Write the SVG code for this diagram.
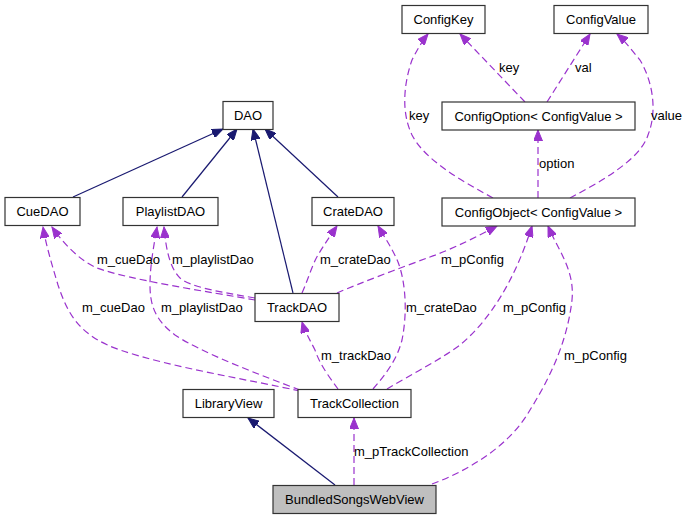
<svg xmlns="http://www.w3.org/2000/svg" width="688" height="520" viewBox="0 0 688 520">
<style>
.node rect{fill:#ffffff;stroke:#333333;stroke-width:1.2}
.node text{font-family:"Liberation Sans",Arial,sans-serif;font-size:13px;fill:#000000;text-anchor:middle}
.inh{fill:none;stroke:#191970;stroke-width:1.2;marker-end:url(#ah)}
.col{fill:none;stroke:#9a32cd;stroke-width:1.2;stroke-dasharray:7,4;marker-end:url(#ap)}
.lbl{font-family:"Liberation Sans",Arial,sans-serif;font-size:13px;fill:#000000}
</style>
<defs>
<marker id="ah" markerUnits="userSpaceOnUse" markerWidth="12" markerHeight="9" refX="11" refY="4.5" orient="auto">
<path d="M0,0 L11,4.5 L0,9 z" fill="#191970" stroke="#191970" stroke-width="1"/>
</marker>
<marker id="ap" markerUnits="userSpaceOnUse" markerWidth="12" markerHeight="9" refX="11" refY="4.5" orient="auto">
<path d="M0,0 L11,4.5 L0,9 z" fill="#9a32cd" stroke="#9a32cd" stroke-width="1"/>
</marker>
</defs>
<rect width="688" height="520" fill="#ffffff"/>
<g id="connectors">
<path class="inh" d="M73,197 L223,129"/>
<path class="inh" d="M182,197 L237,129"/>
<path class="inh" d="M293,293 L253,129"/>
<path class="inh" d="M338,197 L265,129"/>
<path class="inh" d="M335,485 L248,418"/>
<path class="col" d="M255,300 C210,292 130,280 97,268 C80,261 63,243 52,227"/>
<path class="col" d="M255,298 C220,292 190,287 180,278 C170,268 166,250 164,227"/>
<path class="col" d="M300,391 C250,380 170,367 120,350 C80,336 68,315 58,285 C52,265 46,245 43,227"/>
<path class="col" d="M300,390 C260,375 200,352 175,335 C155,320 150,305 150,285 C150,265 154,245 157,227"/>
<path class="col" d="M302,293 C308,280 312,265 318,255 C324,245 330,236 337,226"/>
<path class="col" d="M337,293 C360,283 400,268 430,257 C455,248 480,235 497,226"/>
<path class="col" d="M338,389 C330,378 320,365 315,350 C310,340 305,332 302,322"/>
<path class="col" d="M373,389 C385,375 397,360 402,340 C408,310 405,280 398,262 C392,248 385,238 378,226"/>
<path class="col" d="M387,389 C410,375 440,360 460,345 C490,320 515,280 532,226"/>
<path class="col" d="M354,485 L354,418"/>
<path class="col" d="M432,484 C470,470 510,445 530,410 C555,370 568,335 572,300 C575,270 558,250 548,226"/>
<path class="col" d="M493,198 C460,180 425,160 412,135 C400,110 405,80 412,60 C418,48 423,40 428,34"/>
<path class="col" d="M538,198 L538,130"/>
<path class="col" d="M570,198 C600,182 640,160 648,135 C658,110 652,80 640,60 C630,48 624,40 617,34"/>
<path class="col" d="M525,102 L460,34"/>
<path class="col" d="M547,102 L590,34"/>
<text class="lbl" x="97" y="263.5">m_cueDao</text>
<text class="lbl" x="172" y="263.5">m_playlistDao</text>
<text class="lbl" x="320" y="263.5">m_crateDao</text>
<text class="lbl" x="441" y="263.5">m_pConfig</text>
<text class="lbl" x="82" y="311.5">m_cueDao</text>
<text class="lbl" x="161" y="311.5">m_playlistDao</text>
<text class="lbl" x="406" y="311.5">m_crateDao</text>
<text class="lbl" x="503" y="311.5">m_pConfig</text>
<text class="lbl" x="321" y="359.5">m_trackDao</text>
<text class="lbl" x="564" y="359.5">m_pConfig</text>
<text class="lbl" x="354" y="455.5">m_pTrackCollection</text>
<text class="lbl" x="409" y="119.5">key</text>
<text class="lbl" x="651" y="119.5">value</text>
<text class="lbl" x="539" y="167.5">option</text>
<text class="lbl" x="499" y="71.5">key</text>
<text class="lbl" x="575" y="71.5">val</text>
</g>
<g id="ConfigKey" class="node"><rect x="402" y="5.5" width="83" height="28"/><text x="443.5" y="24">ConfigKey</text></g>
<g id="ConfigValue" class="node"><rect x="554" y="5.5" width="94" height="28"/><text x="601" y="24">ConfigValue</text></g>
<g id="DAO" class="node"><rect x="223" y="101.5" width="50" height="28"/><text x="248" y="120">DAO</text></g>
<g id="ConfigOption" class="node"><rect x="442" y="102" width="193" height="28"/><text x="538.5" y="120.5">ConfigOption&lt; ConfigValue &gt;</text></g>
<g id="CueDAO" class="node"><rect x="5" y="197.5" width="75" height="28"/><text x="42.5" y="216">CueDAO</text></g>
<g id="PlaylistDAO" class="node"><rect x="123" y="197.5" width="95" height="28"/><text x="170.5" y="216">PlaylistDAO</text></g>
<g id="CrateDAO" class="node"><rect x="312" y="197.5" width="82" height="28"/><text x="353" y="216">CrateDAO</text></g>
<g id="ConfigObject" class="node"><rect x="442" y="198" width="193" height="28"/><text x="538.5" y="216.5">ConfigObject&lt; ConfigValue &gt;</text></g>
<g id="TrackDAO" class="node"><rect x="255" y="293.5" width="84" height="28"/><text x="297" y="312">TrackDAO</text></g>
<g id="LibraryView" class="node"><rect x="183" y="389.5" width="91" height="28"/><text x="228.5" y="408">LibraryView</text></g>
<g id="TrackCollection" class="node"><rect x="298" y="389.5" width="113" height="28"/><text x="354.5" y="408">TrackCollection</text></g>
<g id="BundledSongsWebView" class="node"><rect x="273" y="485.5" width="163" height="28" style="fill:#bfbfbf"/><text x="354.5" y="504">BundledSongsWebView</text></g>
</svg>
